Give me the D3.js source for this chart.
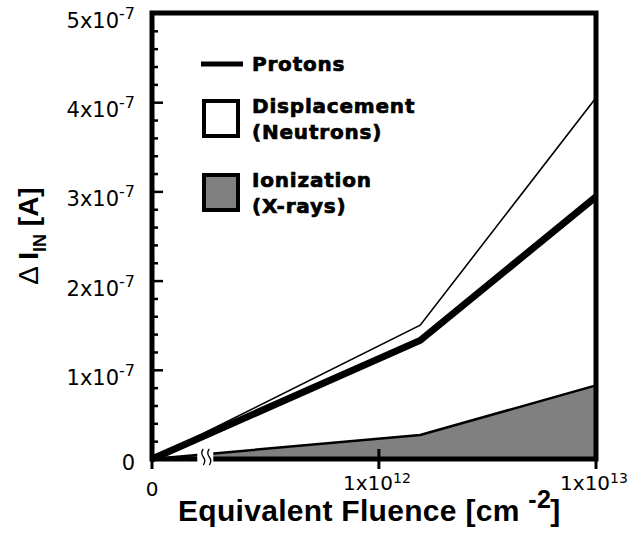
<!DOCTYPE html>
<html>
<head>
<meta charset="utf-8">
<script src="https://cdn.jsdelivr.net/npm/d3@7"></script>
<style>
  html, body { margin: 0; padding: 0; background: #fff; }
  svg { display: block; }
</style>
</head>
<body>
<svg id="chart" width="631" height="541"></svg>
<script>
// Fluence points (cm^-2) and the leakage-current increase (A) for each source
const fluence = [0, 1.55e12, 1e13];
const protons = [0, 1.33e-7, 2.94e-7];
const displacement = [0, 1.50e-7, 4.05e-7];
const ionization = [0, 0.27e-7, 0.825e-7];

const yMajorTicks = [0, 1e-7, 2e-7, 3e-7, 4e-7, 5e-7];
const yTickMantissa = ["0", "1x10", "2x10", "3x10", "4x10", "5x10"];
const yTickExponent = ["", "-7", "-7", "-7", "-7", "-7"];
const xTicks = [0, 1e12, 1e13];
const xTickMantissa = ["0", "1x10", "1x10"];
const xTickExponent = ["", "12", "13"];

const legendItems = [
  { kind: "line", lines: ["Protons"] },
  { kind: "open", lines: ["Displacement", "(Neutrons)"] },
  { kind: "gray", lines: ["Ionization", "(X-rays)"] }
];

(function () {
const svg = d3.select("#chart");
const W = 631, H = 541;
const margin = { left: 152, right: 35, top: 13, bottom: 82 };
const plotLeft = margin.left, plotRight = W - margin.right;
const plotTop = margin.top, plotBottom = H - margin.bottom;
const plotW = plotRight - plotLeft;

const GRAY = "#808080";
const SANS = "'Liberation Sans', Arial, Helvetica, sans-serif";
const WIDE = "'DejaVu Sans', Verdana, sans-serif";

// y: linear current scale
const y = d3.scaleLinear().domain([0, 5e-7]).range([plotBottom, plotTop]);

// x: zero sits on the axis origin, positive fluences follow a log scale past the break
const logStart = plotLeft + 0.511 * plotW;
const xLog = d3.scaleLog().domain([1e12, 1e13]).range([logStart, plotRight]);
const x = v => (v <= 0 ? plotLeft : xLog(v));
const breakX = plotLeft + 0.12 * plotW;

const series = vals => fluence.map((f, i) => ({ f, v: vals[i] }));

// ionization area
const area = d3.area().x(d => x(d.f)).y0(y(0)).y1(d => y(d.v));
svg.append("path")
  .datum(series(ionization))
  .attr("d", area)
  .attr("fill", GRAY);
svg.append("path")
  .datum(series(ionization))
  .attr("d", d3.line().x(d => x(d.f)).y(d => y(d.v)))
  .attr("fill", "none")
  .attr("stroke", "#000")
  .attr("stroke-width", 2.5);

// frame
svg.append("rect")
  .attr("x", plotLeft).attr("y", plotTop)
  .attr("width", plotW).attr("height", plotBottom - plotTop)
  .attr("fill", "none")
  .attr("stroke", "#000")
  .attr("stroke-width", 5);

// axis break between zero and the log decade
const br = svg.append("g").attr("transform", `translate(${breakX},${plotBottom})`);
br.append("rect").attr("x", -8).attr("y", -12).attr("width", 16).attr("height", 22).attr("fill", "#fff");
[-3, 3].forEach(dx => {
  br.append("path")
    .attr("d", `M${dx + 1},-10 q-3,4 0,8 t0,8`)
    .attr("fill", "none")
    .attr("stroke", "#000")
    .attr("stroke-width", 1.3);
});

// lines
const line = d3.line().x(d => x(d.f)).y(d => y(d.v));
svg.append("path")
  .datum(series(displacement))
  .attr("d", line)
  .attr("fill", "none")
  .attr("stroke", "#000")
  .attr("stroke-width", 1.6);
svg.append("path")
  .datum(series(protons))
  .attr("d", line)
  .attr("fill", "none")
  .attr("stroke", "#000")
  .attr("stroke-width", 7)
  .attr("stroke-linejoin", "round");

// left axis: inward major and minor ticks
const yMinor = d3.range(0, 5e-7 + 1e-12, 0.2e-7).filter(v => Math.abs(v / 1e-7 - Math.round(v / 1e-7)) > 1e-6);
const yAxisMajor = svg.append("g").attr("transform", `translate(${plotLeft},0)`)
  .call(d3.axisLeft(y).tickValues(yMajorTicks).tickSize(-11).tickSizeOuter(0).tickFormat(""));
const yAxisMinor = svg.append("g").attr("transform", `translate(${plotLeft},0)`)
  .call(d3.axisLeft(y).tickValues(yMinor).tickSize(-6).tickSizeOuter(0).tickFormat(""));
[yAxisMajor, yAxisMinor].forEach(g => {
  g.select(".domain").remove();
  g.selectAll(".tick line").attr("stroke", "#000").attr("stroke-width", 2.5);
});

// bottom axis ticks crossing the axis line
const xAxis = svg.append("g");
xAxis.selectAll("line").data(xTicks).join("line")
  .attr("x1", d => x(d)).attr("x2", d => x(d))
  .attr("y1", (d, i) => i === 0 ? plotBottom : plotBottom - 10)
  .attr("y2", plotBottom + 10)
  .attr("stroke", "#000")
  .attr("stroke-width", 3);

// y tick labels
const yLab = svg.append("g").attr("font-family", WIDE).attr("fill", "#000");
yMajorTicks.forEach((v, i) => {
  const t = yLab.append("text")
    .attr("x", plotLeft - 17)
    .attr("y", y(v) + (i === 0 ? 11 : 15))
    .attr("text-anchor", "end")
    .attr("font-size", 21);
  t.append("tspan").text(yTickMantissa[i]);
  if (yTickExponent[i]) {
    t.append("tspan").attr("font-size", 16).attr("dy", -9).text(yTickExponent[i]);
  }
});

// x tick labels
const xLab = svg.append("g").attr("font-family", WIDE).attr("fill", "#000");
xTicks.forEach((v, i) => {
  const t = xLab.append("text")
    .attr("x", x(v) - (i === 0 ? 0 : 2))
    .attr("y", plotBottom + (i === 0 ? 37 : 31))
    .attr("text-anchor", "middle")
    .attr("font-size", 20);
  t.append("tspan").text(xTickMantissa[i]);
  if (xTickExponent[i]) {
    t.append("tspan").attr("font-size", 14).attr("dy", -7).text(xTickExponent[i]);
  }
});

// axis titles
const xt = svg.append("text")
  .attr("x", 178).attr("y", plotBottom + 62)
  .attr("font-family", SANS).attr("font-weight", "bold")
  .attr("font-size", 30).attr("letter-spacing", 0.3).attr("fill", "#000");
xt.append("tspan").text("Equivalent Fluence [cm ");
xt.append("tspan").attr("font-size", 25).attr("dy", -13).text("-2");
xt.append("tspan").attr("dy", 13).attr("dx", -1).text("]");

const yt = svg.append("text")
  .attr("transform", `translate(38,${(plotTop + plotBottom) / 2})  rotate(-90)`)
  .attr("text-anchor", "middle")
  .attr("font-family", SANS).attr("font-weight", "bold")
  .attr("font-size", 28).attr("fill", "#000");
yt.append("tspan").attr("font-weight", "normal").text("\u0394 ");
yt.append("tspan").text("I");
yt.append("tspan").attr("font-size", 18).attr("dy", 8).text("IN");
yt.append("tspan").attr("dy", -8).text(" [A]");

// legend
const lg = svg.append("g").attr("font-family", WIDE).attr("font-weight", "bold")
  .attr("font-size", 20).attr("letter-spacing", 0.8).attr("fill", "#000")
  .attr("stroke", "#000").attr("stroke-width", 0.7);
const rowY = [64, 118, 192];
legendItems.forEach((it, i) => {
  const cy = rowY[i];
  if (it.kind === "line") {
    lg.append("line").attr("x1", 201).attr("x2", 243)
      .attr("y1", cy).attr("y2", cy)
      .attr("stroke", "#000").attr("stroke-width", 5);
    lg.append("text").attr("x", 252).attr("y", cy + 7).text(it.lines[0]);
  } else {
    lg.append("rect").attr("x", 204).attr("y", cy - 17)
      .attr("width", 34).attr("height", 35)
      .attr("fill", it.kind === "gray" ? GRAY : "#fff")
      .attr("stroke", "#000").attr("stroke-width", 4);
    lg.append("text").attr("x", 252).attr("y", cy - 5).text(it.lines[0]);
    lg.append("text").attr("x", 252).attr("y", cy + 21).text(it.lines[1]);
  }
});
})();
</script>
</body>
</html>
